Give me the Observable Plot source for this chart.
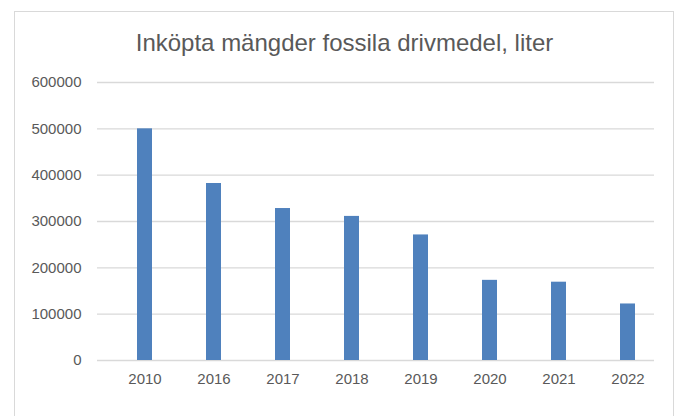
<!DOCTYPE html>
<html>
<head>
<meta charset="utf-8">
<script src="https://cdn.jsdelivr.net/npm/d3@7"></script>
<script src="https://cdn.jsdelivr.net/npm/@observablehq/plot@0.6"></script>
<style>
  html, body { margin: 0; padding: 0; background: #fff; }
  #wrap { position: relative; width: 681px; height: 416px; overflow: hidden; }
  #border { position: absolute; left: 14px; top: 11px; width: 660px; height: 420px; border: 1px solid #d9d9d9; box-sizing: border-box; }
  #title { position: absolute; left: 0; width: 689px; top: 29px; text-align: center;
           font-family: "Liberation Sans", Arial, sans-serif; font-size: 24px; line-height: 28px; color: #595959; white-space: nowrap; }
  #chart { position: absolute; left: 0; top: 0; }
  #chart svg { font-family: "Liberation Sans", Arial, sans-serif; }
</style>
</head>
<body>
<div id="wrap">
  <div id="border"></div>
  <div id="title">Inköpta mängder fossila drivmedel, liter</div>
  <div id="chart"></div>
</div>
<script>
const years = ["2010", "2016", "2017", "2018", "2019", "2020", "2021", "2022"];
const liters = [500000, 382000, 328000, 311000, 271000, 173000, 169000, 122000];
const yTicks = [0, 100000, 200000, 300000, 400000, 500000, 600000];

const data = years.map((y, i) => ({year: y, value: liters[i]}));

const chart = Plot.plot({
  width: 681,
  height: 416,
  marginLeft: 97,
  marginRight: 27,
  marginTop: 82,
  marginBottom: 56,
  style: {background: "transparent", fontSize: "15px", color: "#595959"},
  x: {domain: years, range: [106.4, 664.8], padding: 0, label: null},
  y: {domain: [0, 600000], label: null},
  marks: [
    Plot.gridY(yTicks, {stroke: "#d9d9d9", strokeOpacity: 1, strokeWidth: 1.4}),
    Plot.barY(data, {x: "year", y: "value", fill: "#4f81bd", insetLeft: 27, insetRight: 27}),
    Plot.axisX({tickSize: 0, tickPadding: 13, fill: "#595959"}),
    Plot.axisY(yTicks, {tickFormat: d => String(d), tickSize: 0, tickPadding: 16, fill: "#595959"})
  ]
});
document.getElementById("chart").appendChild(chart);
</script>
</body>
</html>
